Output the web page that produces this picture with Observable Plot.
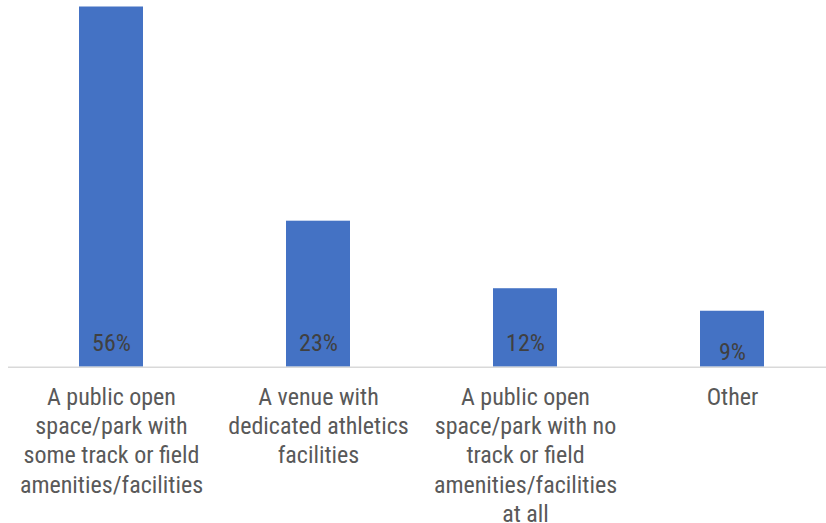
<!DOCTYPE html>
<html>
<head>
<meta charset="utf-8">
<script src="https://cdn.jsdelivr.net/npm/d3@7"></script>
<script src="https://cdn.jsdelivr.net/npm/@observablehq/plot@0.6"></script>
<style>
  html, body { margin: 0; padding: 0; background: #fff; }
  #chart svg { display: block; }
</style>
</head>
<body>
<div id="chart"></div>
<script>
const categories = [
  "A public open\nspace/park with\nsome track or field\namenities/facilities",
  "A venue with\ndedicated athletics\nfacilities",
  "A public open\nspace/park with no\ntrack or field\namenities/facilities\nat all",
  "Other"
];
const values = [56, 22.7, 12.2, 8.7];
const valueLabels = ["56%", "23%", "12%", "9%"];

const data = categories.map((c, i) => ({category: c, value: values[i], label: valueLabels[i]}));

const font = "'Roboto Condensed', 'Liberation Sans Narrow', Roboto, sans-serif";

const chart = Plot.plot({
  width: 826,
  height: 523,
  marginTop: 0,
  marginRight: 0,
  marginBottom: 0,
  marginLeft: 8,
  style: {fontFamily: font, background: "#fff"},
  x: {domain: categories, range: [7.5, 835.5], paddingInner: 0.691, paddingOuter: 0.3455, axis: null},
  y: {domain: [0, 56], range: [366.7, 6.5], axis: null},
  marks: [
    Plot.barY(data, {x: "category", y: "value", fill: "#4472C4"}),
    Plot.ruleY([0], {stroke: "#D9D9D9", strokeWidth: 1.5}),
    Plot.text(data, {filter: (d, i) => i < 3, x: "category", y: 0, text: "label", lineAnchor: "middle", dy: -24, fontSize: 24, fill: "#404040"}),
    Plot.text(data, {filter: (d, i) => i === 3, x: "category", y: 0, text: "label", lineAnchor: "middle", dy: -15, fontSize: 24, fill: "#404040"}),
    Plot.text(data, {x: "category", y: 0, text: "category", lineAnchor: "top", dy: 17, fontSize: 24, lineHeight: 1.217, fill: "#595959"})
  ]
});
document.getElementById("chart").appendChild(chart);
</script>
</body>
</html>
